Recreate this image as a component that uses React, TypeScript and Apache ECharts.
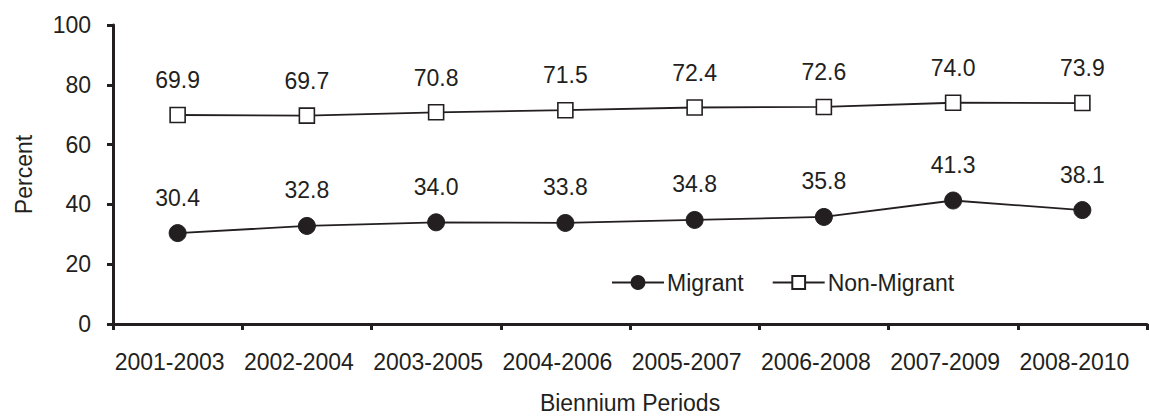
import React, { useEffect, useRef } from "react";
import * as echarts from "echarts";

const categories = ["2001-2003", "2002-2004", "2003-2005", "2004-2006", "2005-2007", "2006-2008", "2007-2009", "2008-2010"];
const migrant = [30.4, 32.8, 34.0, 33.8, 34.8, 35.8, 41.3, 38.1];
const nonMigrant = [69.9, 69.7, 70.8, 71.5, 72.4, 72.6, 74.0, 73.9];
const yTicks = { min: 0, max: 100, interval: 20 };

const INK = "#231f20";
const FONT = "Liberation Sans";

export default function App() {
  const ref = useRef<HTMLDivElement>(null);
  useEffect(() => {
    if (!ref.current) return;
    const chart = echarts.init(ref.current, null, { renderer: "svg" });
    const labelCfg = {
      show: true,
      position: "top",
      distance: 15,
      color: INK,
      fontSize: 23,
      fontFamily: FONT,
      formatter: (p: any) => Number(p.value).toFixed(1),
    };
    chart.setOption({
      animation: false,
      textStyle: { fontFamily: FONT, color: INK },
      grid: { left: 113, right: 2, top: 25, bottom: 90 },
      legend: {
        left: 606,
        top: 266,
        itemWidth: 52,
        itemHeight: 16,
        itemGap: 28,
        textStyle: { fontSize: 23, color: INK, fontFamily: FONT, padding: [0, 0, 0, -2] },
        data: ["Migrant", "Non-Migrant"],
      },
      xAxis: {
        type: "category",
        data: categories,
        boundaryGap: true,
        name: "Biennium Periods",
        nameLocation: "middle",
        nameGap: 67,
        nameTextStyle: { fontSize: 23, color: INK, fontFamily: FONT },
        axisLine: { lineStyle: { color: INK, width: 3 } },
        axisTick: { show: true, length: 6, lineStyle: { color: INK, width: 3 } },
        axisLabel: {
          color: INK,
          fontSize: 23,
          fontFamily: FONT,
          margin: 26,
          padding: [0, 16, 0, 0],
          interval: 0,
        },
        splitLine: { show: false },
      },
      yAxis: {
        type: "value",
        min: yTicks.min,
        max: yTicks.max,
        interval: yTicks.interval,
        name: "Percent",
        nameLocation: "middle",
        nameGap: 78,
        nameTextStyle: { fontSize: 23, color: INK, fontFamily: FONT },
        axisLine: { show: true, lineStyle: { color: INK, width: 3 } },
        axisTick: { show: true, length: 6, lineStyle: { color: INK, width: 3 } },
        axisLabel: { color: INK, fontSize: 23, fontFamily: FONT, margin: 22 },
        splitLine: { show: false },
      },
      series: [
        {
          name: "Migrant",
          type: "line",
          data: migrant,
          symbol: "circle",
          symbolSize: 17,
          lineStyle: { color: INK, width: 1.8 },
          itemStyle: { color: INK, borderColor: INK, borderWidth: 1 },
          label: labelCfg,
        },
        {
          name: "Non-Migrant",
          type: "line",
          data: nonMigrant,
          symbol: "rect",
          symbolSize: 15,
          lineStyle: { color: INK, width: 1.8 },
          itemStyle: { color: "#ffffff", borderColor: INK, borderWidth: 1.6 },
          label: labelCfg,
        },
      ],
    });
    return () => chart.dispose();
  }, []);
  return <div ref={ref} style={{ width: 1149, height: 419, position: "absolute", left: 0, top: 0 }} />;
}
